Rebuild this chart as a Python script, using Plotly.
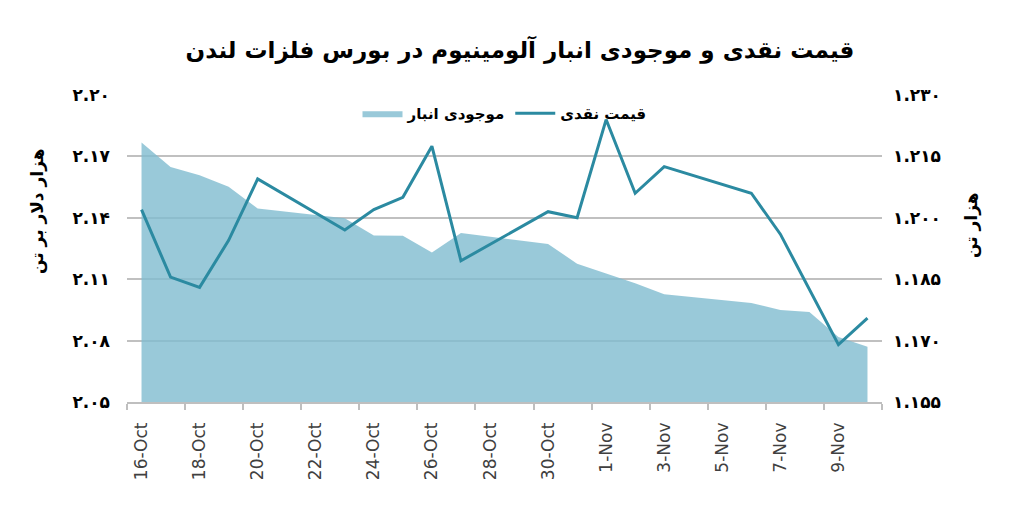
import plotly.graph_objects as go

# ---- data ----
dates = ["2017-10-16", "2017-10-17", "2017-10-18", "2017-10-19", "2017-10-20",
         "2017-10-23", "2017-10-24", "2017-10-25", "2017-10-26", "2017-10-27",
         "2017-10-30", "2017-10-31", "2017-11-01", "2017-11-02", "2017-11-03",
         "2017-11-06", "2017-11-07", "2017-11-08", "2017-11-09", "2017-11-10"]

# spot price, thousand USD per tonne (left axis)
price = [2.144, 2.111, 2.106, 2.129, 2.159,
         2.134, 2.144, 2.150, 2.175, 2.119,
         2.143, 2.140, 2.188, 2.152, 2.165,
         2.152, 2.132, 2.105, 2.078, 2.091]

# warehouse stock, thousand tonnes (right axis)
stock = [1.2184, 1.2124, 1.2104, 1.2076, 1.2023,
         1.1999, 1.1957, 1.1956, 1.1915, 1.1963,
         1.1936, 1.1888, 1.1864, 1.1840, 1.1813,
         1.1792, 1.1775, 1.1770, 1.1709, 1.1685]

x_tickvals = ["2017-10-16", "2017-10-18", "2017-10-20", "2017-10-22", "2017-10-24",
              "2017-10-26", "2017-10-28", "2017-10-30", "2017-11-01", "2017-11-03",
              "2017-11-05", "2017-11-07", "2017-11-09"]
x_ticktext = ["16-Oct", "18-Oct", "20-Oct", "22-Oct", "24-Oct", "26-Oct", "28-Oct",
              "30-Oct", "1-Nov", "3-Nov", "5-Nov", "7-Nov", "9-Nov"]

price_tickvals = [2.05, 2.08, 2.11, 2.14, 2.17, 2.20]
price_ticktext = ["۲.۰۵", "۲.۰۸", "۲.۱۱", "۲.۱۴", "۲.۱۷", "۲.۲۰"]
stock_tickvals = [1.155, 1.170, 1.185, 1.200, 1.215, 1.230]
stock_ticktext = ["۱.۱۵۵", "۱.۱۷۰", "۱.۱۸۵", "۱.۲۰۰", "۱.۲۱۵", "۱.۲۳۰"]

title_text = "قیمت نقدی و موجودی انبار آلومینیوم در بورس فلزات لندن"
stock_name = "موجودی انبار"
price_name = "قیمت نقدی"
price_axis_title = "هزار دلار بر تن"
stock_axis_title = "هزار تن"

FONT = "DejaVu Sans"


def bold(items):
    return ["<b>" + t + "</b>" for t in items]


fig = go.Figure()
fig.add_trace(go.Scatter(
    x=dates, y=stock, name="<b>" + stock_name + "</b>", mode="lines",
    line=dict(width=0, color="rgba(128,188,207,0.8)"),
    fill="tozeroy", fillcolor="rgba(128,188,207,0.8)",
    yaxis="y",
))
fig.add_trace(go.Scatter(
    x=dates, y=price, name="<b>" + price_name + "</b>", mode="lines",
    line=dict(width=3, color="#2B8AA1"),
    yaxis="y2",
))

fig.update_layout(
    width=1010, height=509,
    margin=dict(l=119, r=136, t=87, b=115),
    paper_bgcolor="white", plot_bgcolor="white",
    font=dict(family=FONT, color="#000000"),
    title=dict(text="<b>" + title_text + "</b>", x=512 / 1010, xref="container",
               xanchor="center", y=1 - 42 / 509, yanchor="middle",
               font=dict(size=23, family=FONT, color="#000000")),
    showlegend=True,
    legend=dict(orientation="h", x=0.5, xanchor="center", y=0.94, yanchor="middle",
                bgcolor="rgba(0,0,0,0)", itemwidth=40,
                font=dict(size=15, family=FONT, color="#000000")),
    xaxis=dict(
        type="date",
        range=["2017-10-15 12:00", "2017-11-10 12:00"],
        tickmode="array", tickvals=x_tickvals, ticktext=x_ticktext,
        tickangle=-90, ticks="", ticklabelstandoff=12,
        tickfont=dict(size=17, family=FONT, color="#404040"),
        showline=True, linecolor="#BFBFBF", linewidth=1.5,
        showgrid=False, zeroline=False,
        minor=dict(ticks="outside", ticklen=6, tickcolor="#BFBFBF", tickwidth=1.5,
                   tickmode="linear", tick0="2017-10-15 12:00", dtick=2 * 86400000,
                   showgrid=False),
    ),
    yaxis=dict(
        side="right", range=[1.155, 1.230],
        tickmode="array", tickvals=stock_tickvals, ticktext=bold(stock_ticktext),
        ticks="", ticklabelstandoff=10,
        tickfont=dict(size=17, family=FONT, color="#000000"),
        showgrid=True, gridcolor="#C0C0C0", gridwidth=1.5,
        zeroline=False, showline=False,
    ),
    yaxis2=dict(
        overlaying="y", side="left", range=[2.05, 2.20],
        tickmode="array", tickvals=price_tickvals, ticktext=bold(price_ticktext),
        ticks="", ticklabelstandoff=16,
        tickfont=dict(size=17, family=FONT, color="#000000"),
        showgrid=False, zeroline=False, showline=False,
    ),
    annotations=[
        dict(text="<b>" + price_axis_title + "</b>", textangle=-90,
             xref="paper", yref="paper", x=-0.1192, y=0.622,
             xanchor="center", yanchor="middle", showarrow=False,
             font=dict(size=17, family=FONT, color="#000000")),
        dict(text="<b>" + stock_axis_title + "</b>", textangle=-90,
             xref="paper", yref="paper", x=1.1179, y=0.5765,
             xanchor="center", yanchor="middle", showarrow=False,
             font=dict(size=17, family=FONT, color="#000000")),
    ],
)

fig.write_html("out.html")
